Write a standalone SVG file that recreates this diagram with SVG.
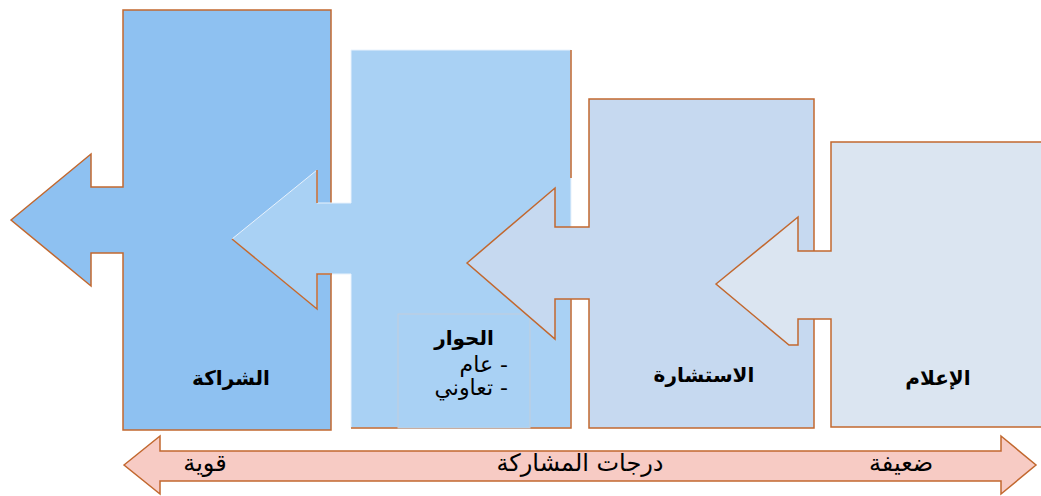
<svg xmlns="http://www.w3.org/2000/svg" width="1041" height="496" viewBox="0 0 1041 496">
<style>
.edge{stroke:#c2682f;stroke-width:1.5;stroke-linejoin:miter}
.lbl{font-family:"DejaVu Sans","Noto Sans",sans-serif;fill:#000;text-anchor:middle}
.b{font-weight:bold;font-size:20px}
.r{font-size:24px}
.li{font-size:22px}
</style>
<rect width="1041" height="496" fill="#ffffff"/>
<g id="node-partnership">
<path class="edge" fill="#8ec1f1" d="M11,220 L91,154 L91,187 L123,187 L123,10 L331,10 L331,430 L123,430 L123,253 L91,253 L91,286 Z"/>
<text class="lbl b" x="231" y="385">الشراكة</text>
</g>
<g id="node-dialogue">
<path fill="#a9d1f4" stroke="#e8f2fc" stroke-width="1" d="M232,239 L317,170 L317,203 L351,203 L351,50 L571,50 L571,428 L351,428 L351,274 L317,274 L317,309 Z"/>
<path class="edge" fill="none" d="M571,50 L571,178 M571,298 L571,428 L351,428 M317,170 L317,203 M232,239 L317,309 L317,274 L332,274"/>
<rect x="398" y="314" width="132" height="114" fill="#a9d1f4" stroke="#c3cedb" stroke-width="1"/>
<text class="lbl b" x="464" y="345">الحوار</text>
<text class="lbl li" x="508" y="372" direction="rtl" unicode-bidi="embed" style="text-anchor:start">- عام</text>
<text class="lbl li" x="508" y="395" direction="rtl" unicode-bidi="embed" style="text-anchor:start">- تعاوني</text>
</g>
<g id="node-consultation">
<path class="edge" fill="#c6d9f0" d="M467,263 L555,188 L555,227 L589,227 L589,99 L814,99 L814,428 L589,428 L589,299 L555,299 L555,339 Z"/>
<text class="lbl b" x="704" y="382">الاستشارة</text>
</g>
<g id="node-information">
<path class="edge" fill="#dbe5f1" d="M716,284 L798,217 L798,251 L831,251 L831,142 L1045,142 L1045,427 L831,427 L831,319 L798,319 L798,345 L789,345 Z"/>
<text class="lbl b" x="938" y="385">الإعلام</text>
</g>
<g id="connectors">
<path class="edge" fill="#f7cbc4" d="M124,465 L160,436 L160,451 L1001,451 L1001,436 L1036,465 L1001,494 L1001,481 L160,481 L160,494 Z"/>
<text class="lbl r" x="205" y="471">قوية</text>
<text class="lbl r" x="580" y="471">درجات المشاركة</text>
<text class="lbl r" x="901" y="471">ضعيفة</text>
</g>
</svg>
